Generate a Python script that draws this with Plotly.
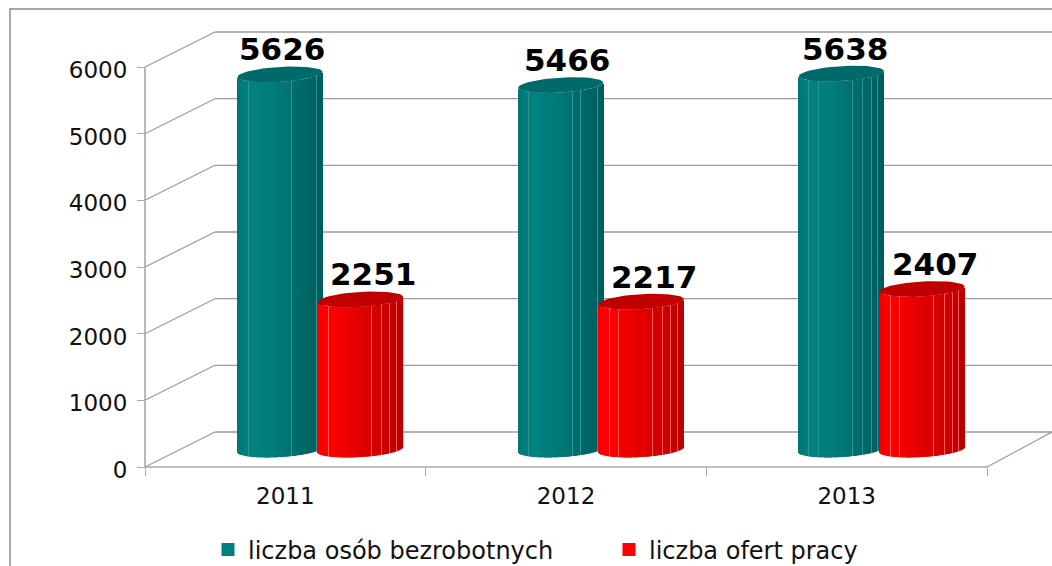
import math
import plotly.graph_objects as go

years = ["2011", "2012", "2013"]
series_names = ["liczba osób bezrobotnych", "liczba ofert pracy"]
unemployed = [5626, 5466, 5638]
offers = [2251, 2217, 2407]
y_ticks = [0, 1000, 2000, 3000, 4000, 5000, 6000]

W, H = 1052, 566
X0, X3 = 145, 987          # pixel span of the 3 category slots
Y0, Y6000 = 467, 67        # pixel span of 0..6000
PX_X = (X3 - X0) / 3       # px per category
PX_Y = (Y0 - Y6000) / 6000 # px per value
x_range = [-X0 / PX_X, (W - X0) / PX_X]
y_range = [-(H - Y0) / PX_Y, Y0 / PX_Y]
x_end = x_range[1]
DX = 70 / PX_X             # depth shift, x
DY = 35 / PX_Y             # depth shift, y
BAR_W = 85 / PX_X
SLOT_OFF = 0.1435
A, B, TILT = 42.5, 7.5, 2.5   # cylinder ellipse, px

GRID = "#9a9a9a"
AXIS = "#a8a8a8"
FONT = "DejaVu Sans"

facets = {
    0: [[0.13, 0.64, 0.93], [0.12, 0.63, 0.73, 0.93], [0.12, 0.23, 0.64, 0.75, 0.86, 0.93]],
    1: [[0.13, 0.64, 0.75, 0.85, 0.93], [0.13, 0.23, 0.64, 0.75, 0.85, 0.93], [0.13, 0.24, 0.64, 0.76, 0.86, 0.93]],
}
ramps = {
    0: [(0, (0, 118, 118)), (0.15, (0, 130, 130)), (0.4, (0, 125, 125)), (0.7, (0, 108, 108)), (1, (0, 92, 92))],
    1: [(0, (245, 0, 0)), (0.15, (255, 0, 0)), (0.35, (238, 0, 0)), (0.7, (212, 0, 0)), (1, (185, 0, 0))],
}
tops = ["#006a6a", "#c00000"]
lights = ["#329595", "#ff5a5a"]
labels_dx = [[2, 6, 4], [12, 13, 13]]


def shade(idx, u):
    r = ramps[idx]
    for (a, ca), (b, cb) in zip(r, r[1:]):
        if u <= b:
            t = (u - a) / (b - a)
            return "rgb(%d,%d,%d)" % tuple(round(p + (q - p) * t) for p, q in zip(ca, cb))
    return "rgb(%d,%d,%d)" % r[-1][1]


fig = go.Figure()
annotations = []

for s, values in enumerate([unemployed, offers]):
    xs, bases, heights, colors = [], [], [], []
    for c, v in enumerate(values):
        centre = c + 0.5 + (-SLOT_OFF if s == 0 else SLOT_OFF)
        n = 85
        light_idx = {round(f * n) for f in facets[s][c]}
        for i in range(n):
            u = (i + 0.5) / n
            k = 2 * u - 1
            curve_px = B * math.sqrt(max(0, 1 - k * k)) - TILT * k
            xs.append(centre + (u - 0.5) * BAR_W + DX / 2)
            bases.append(DY / 2 - curve_px / PX_Y)
            heights.append(v)
            colors.append(lights[s] if i in light_idx else shade(s, u))
    fig.add_bar(x=xs, y=heights, base=bases, width=1.25 / PX_X,
                marker=dict(color=colors, line=dict(width=0)),
                showlegend=False, hoverinfo="skip", cliponaxis=False)

for s, values in enumerate([unemployed, offers]):
    for c, v in enumerate(values):
        centre = c + 0.5 + (-SLOT_OFF if s == 0 else SLOT_OFF) + DX / 2
        ts = [2 * math.pi * i / 60 for i in range(61)]
        ex = [centre + (A * math.cos(t)) / PX_X for t in ts]
        ey = [v + DY / 2 - (B * math.sin(t) - TILT * math.cos(t)) / PX_Y for t in ts]
        fig.add_scatter(x=ex, y=ey, mode="lines", fill="toself", fillcolor=tops[s],
                        line=dict(width=0, color=tops[s]), showlegend=False,
                        hoverinfo="skip", cliponaxis=False)
        annotations.append(dict(x=centre, y=v + DY / 2, text=str(v), showarrow=False,
                                xshift=labels_dx[s][c], yshift=25, xanchor="center", yanchor="middle",
                                font=dict(family=FONT, size=31, color="black", weight="bold")))

for s, name in enumerate(series_names):
    fig.add_scatter(x=[None], y=[None], name=name, mode="markers",
                    marker=dict(color=["#008080", "#ff0000"][s], symbol="square", size=13, line=dict(width=0)))

shapes = []
for v in y_ticks:
    shapes.append(dict(type="line", layer="below", x0=0, y0=v, x1=DX, y1=v + DY, xref="x", yref="y",
                       line=dict(color=GRID, width=1.2)))
    shapes.append(dict(type="line", layer="below", x0=DX, y0=v + DY, x1=x_end, y1=v + DY, xref="x", yref="y",
                       line=dict(color=GRID, width=1.4)))
shapes += [
    dict(type="line", layer="below", x0=0, y0=0, x1=0, y1=y_ticks[-1], xref="x", yref="y",
         line=dict(color=AXIS, width=1.6)),
    dict(type="line", layer="below", x0=0, y0=0, x1=3, y1=0, xref="x", yref="y",
         line=dict(color=AXIS, width=1.6)),
    dict(type="line", layer="below", x0=3, y0=0, x1=x_end, y1=DY, xref="x", yref="y",
         line=dict(color=GRID, width=1.2)),
    dict(type="path", layer="below", xref="paper", yref="paper",
         path="M %f 0 L %f %f L 1 %f" % (10 / W, 10 / W, 1 - 9 / H, 1 - 9 / H),
         line=dict(color="#868686", width=1.4)),
]

fig.update_layout(
    width=W, height=H, margin=dict(l=0, r=0, t=0, b=0, autoexpand=False),
    paper_bgcolor="white", plot_bgcolor="white",
    barmode="overlay", shapes=shapes, annotations=annotations,
    font=dict(family=FONT, color="#111111"),
    legend=dict(orientation="h", x=208 / W, xanchor="left", y=1 - 550 / H, yanchor="middle",
                entrywidth=356, entrywidthmode="pixels", itemwidth=30,
                font=dict(family=FONT, size=24, color="#111111"),
                bgcolor="rgba(0,0,0,0)", traceorder="normal"),
    xaxis=dict(range=x_range, anchor="free", position=(H - Y0) / H, showgrid=False, zeroline=False,
               showline=False, tickmode="array", tickvals=[0.5, 1.5, 2.5], ticktext=years,
               ticks="outside", ticklen=0, ticklabelstandoff=8,
               tickfont=dict(family=FONT, size=23, color="#111111"),
               minor=dict(tickmode="array", tickvals=[0, 1, 2, 3], ticks="outside", ticklen=8,
                          tickcolor=AXIS, tickwidth=1.4, showgrid=False)),
    yaxis=dict(range=y_range, anchor="free", position=X0 / W, showgrid=False, zeroline=False,
               showline=False, tickmode="array", tickvals=y_ticks,
               ticks="outside", ticklen=8, tickcolor=AXIS, tickwidth=1.4, ticklabelstandoff=5,
               ticklabelshift=3,
               tickfont=dict(family=FONT, size=23, color="#111111")),
)

fig.write_html("out.html", config={"displayModeBar": False},
               post_script="document.body.style.margin='0';document.documentElement.style.overflow='hidden';")
